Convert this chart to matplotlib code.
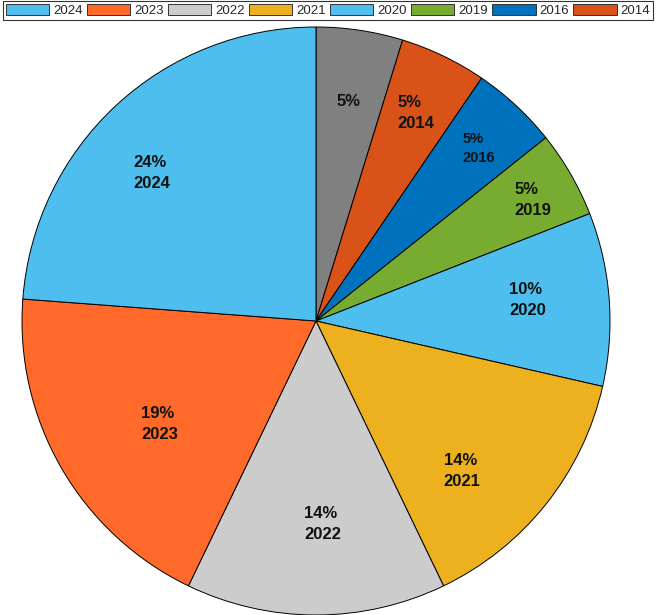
import numpy as np
import matplotlib
matplotlib.use("Agg")
import matplotlib.pyplot as plt
from matplotlib.patches import Patch

plt.rcParams['font.family'] = ['Liberation Sans', 'DejaVu Sans']

# slices clockwise from 12 o'clock
years  = ["", "2014", "2016", "2019", "2020", "2021", "2022", "2023", "2024"]
counts = [1, 1, 1, 1, 2, 3, 3, 4, 5]
colors = ["#808080", "#D95319", "#0072BD", "#77AC30", "#4DBEEE",
          "#EDB120", "#CCCCCC", "#FF6929", "#4DBEEE"]

# label placement (radius fraction, angle offset from slice middle, degrees)
lab_r   = [0.75, 0.76, 0.77, 0.79, 0.66, 0.67, 0.69, 0.69, 0.80]
lab_off = [3.1, 4.3, 2.5, 1.4, 1.9, -11.0, -3.4, 0.4, 8.1]

total = sum(counts)
pct = [round(100 * c / total) for c in counts]

fig = plt.figure(figsize=(6.56, 6.15), dpi=100)
ax = fig.add_axes([22 / 656, 0.0, 588 / 656, 588 / 615])

wedges, _ = ax.pie(counts, colors=colors, startangle=90, counterclock=False,
                   wedgeprops=dict(edgecolor="black", linewidth=0.7))
ax.set_xlim(-1, 1); ax.set_ylim(-1, 1)
ax.set_aspect("auto")

for w, p, y, r, off in zip(wedges, pct, years, lab_r, lab_off):
    ang = np.radians((w.theta1 + w.theta2) / 2 + off)
    txt = f"{p}%" if not y else f"{p}%\n{y}"
    fs = 10.5 if y == "2016" else 12
    ax.text(r * np.cos(ang), r * np.sin(ang), txt, ha="left", va="center",
            fontsize=fs, fontweight="bold", linespacing=1.5, color="#111111")

# legend (newest first, gray slice unlisted)
handles = [Patch(facecolor=c, edgecolor="#333333", linewidth=0.7, label=y)
           for c, y in zip(colors[::-1], years[::-1]) if y]
leg = fig.legend(handles=handles, ncol=8, loc="upper left",
                 bbox_to_anchor=(3 / 656, 1 - 2 / 615, 650 / 656, 0.001),
                 mode="expand", fontsize=9.5, handlelength=3.3, handleheight=0.95,
                 handletextpad=0.3, columnspacing=1.0, borderpad=0.2,
                 frameon=True, fancybox=False, edgecolor="black", borderaxespad=0,
                 labelcolor="#262626")
leg.get_frame().set_linewidth(0.8)

fig.savefig("out.png", dpi=100)
